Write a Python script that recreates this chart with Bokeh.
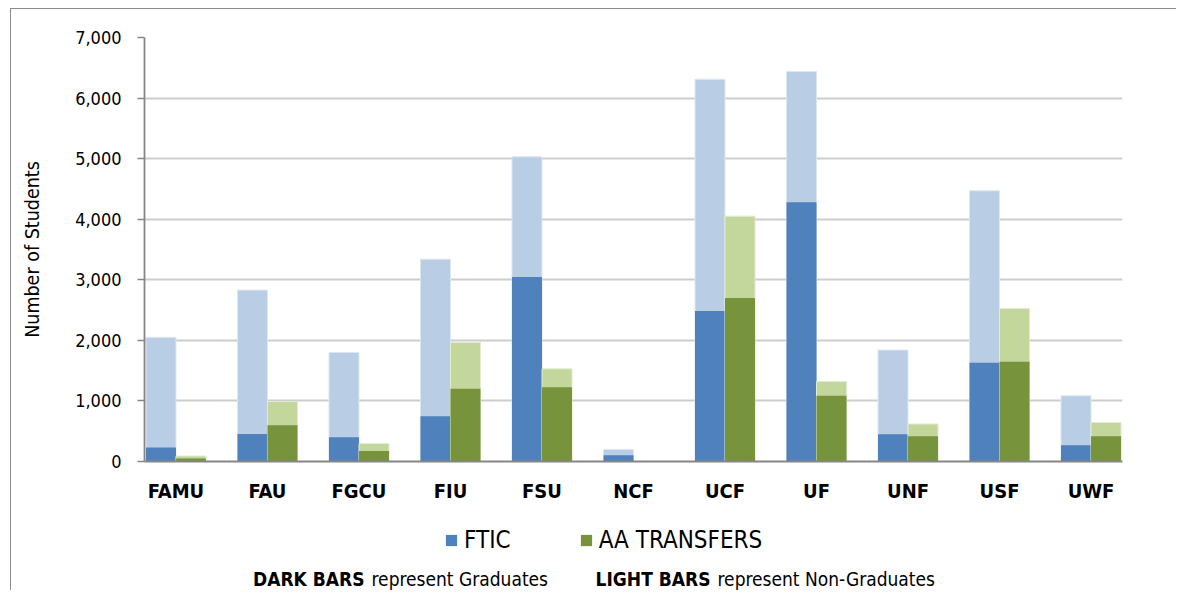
from bokeh.plotting import figure
from bokeh.layouts import column
from bokeh.models import (FactorRange, Legend, LegendItem, NumeralTickFormatter,
                          FixedTicker, ColumnDataSource)
from bokeh.core.properties import value
from bokeh.transform import dodge
from bokeh.embed import file_html
from bokeh.resources import INLINE

FONT = "DejaVu Sans Condensed"

# ---- data ----
universities = ["FAMU", "FAU", "FGCU", "FIU", "FSU", "NCF", "UCF", "UF", "UNF", "USF", "UWF"]
ftic_graduates = [230, 455, 400, 745, 3045, 105, 2485, 4280, 450, 1630, 270]
ftic_non_graduates = [1820, 2375, 1400, 2595, 1985, 95, 3825, 2160, 1390, 2840, 815]
aa_graduates = [50, 600, 175, 1200, 1225, 0, 2700, 1085, 415, 1645, 415]
aa_non_graduates = [40, 390, 120, 765, 305, 0, 1350, 235, 205, 880, 230]
y_ticks = [0, 1000, 2000, 3000, 4000, 5000, 6000, 7000]
series_labels = ["FTIC", "AA TRANSFERS"]
note_bold = ["DARK BARS", "LIGHT BARS"]
note_rest = ["represent Graduates", "represent Non-Graduates"]

ftic_total = [g + n for g, n in zip(ftic_graduates, ftic_non_graduates)]
aa_total = [g + n for g, n in zip(aa_graduates, aa_non_graduates)]

src = ColumnDataSource(dict(
    uni=universities,
    idx=list(range(len(universities))),
    ftic_g=ftic_graduates, ftic_t=ftic_total,
    aa_g=aa_graduates, aa_t=aa_total,
))

DARK_BLUE = "#4F81BD"
LIGHT_BLUE = "#B9CDE5"
DARK_GREEN = "#77933C"
LIGHT_GREEN = "#C3D69B"

# ---- layout constants (page pixels) ----
ORIGIN_X, ORIGIN_Y = 11, 9
FRAME_L, FRAME_R = 144, 1122
WIDTH = 1177 - ORIGIN_X
MB_LEFT, MB_RIGHT = FRAME_L - ORIGIN_X, 1177 - FRAME_R
MAIN_H = 496
STRIP_H = 86

# ---- main chart ----
x_range = FactorRange(*universities, range_padding=-0.312 / len(universities),
                      range_padding_units="percent")
p = figure(x_range=x_range, y_range=(0, 7000),
           width=WIDTH, height=MAIN_H, output_backend="svg", toolbar_location=None,
           min_border_left=MB_LEFT, min_border_right=MB_RIGHT, min_border_top=28,
           min_border_bottom=42)

W = 0.328
ftic_x = dodge("uni", -W / 2, range=p.x_range)
aa_x = dodge("uni", W / 2, range=p.x_range)

p.vbar(x=ftic_x, top="ftic_t", width=W, source=src, fill_color=LIGHT_BLUE,
       line_color="#dde7f2", line_width=1)
p.vbar(x=ftic_x, top="ftic_g", width=W, source=src, fill_color=DARK_BLUE, line_color=None)
p.vbar(x=aa_x, top="aa_t", width=W, source=src, fill_color=LIGHT_GREEN,
       line_color="#e2ecd0", line_width=1)
p.vbar(x=aa_x, top="aa_g", width=W, source=src, fill_color=DARK_GREEN, line_color=None)

p.outline_line_color = None
p.xgrid.grid_line_color = None
p.ygrid.grid_line_color = "#CDCDCD"
p.ygrid.grid_line_width = 1.8

p.yaxis.ticker = FixedTicker(ticks=y_ticks)
p.yaxis.formatter = NumeralTickFormatter(format="0,0")
p.yaxis.axis_line_color = "#868686"
p.yaxis.axis_line_width = 1.8
p.yaxis.major_tick_line_color = "#868686"
p.yaxis.major_tick_line_width = 1.5
p.yaxis.major_tick_in = 0
p.yaxis.major_tick_out = 7
p.yaxis.minor_tick_line_color = None
p.yaxis.major_label_text_font = FONT
p.yaxis.major_label_text_font_size = "18px"
p.yaxis.major_label_text_color = "#000000"
p.yaxis.major_label_standoff = 16
p.yaxis.axis_label = "Number of Students"
p.yaxis.axis_label_text_font = FONT
p.yaxis.axis_label_text_font_size = "19.5px"
p.yaxis.axis_label_text_font_style = "normal"
p.yaxis.axis_label_text_color = "#000000"
p.yaxis.axis_label_standoff = 28

p.xaxis.axis_line_color = "#868686"
p.xaxis.axis_line_width = 2
p.xaxis.major_tick_line_color = None
p.xaxis.major_tick_out = 0
p.xaxis.major_tick_in = 0
p.xaxis.major_label_text_font = FONT
p.xaxis.major_label_text_font_style = "bold"
p.xaxis.major_label_text_font_size = "20px"
p.xaxis.major_label_text_color = "#000000"
p.xaxis.major_label_standoff = 17

# ---- legend + note strip: x data units follow the page pixels of the main frame ----
q = figure(width=WIDTH, height=STRIP_H, x_range=(FRAME_L, FRAME_R), y_range=(0, STRIP_H),
           output_backend="svg", toolbar_location=None,
           min_border_left=MB_LEFT, min_border_right=MB_RIGHT, min_border_top=0,
           min_border_bottom=0, x_axis_type=None, y_axis_type=None)
q.outline_line_color = None
q.grid.visible = False

# hidden renderers carrying the real series, used only for the legend swatches
r1 = q.vbar(x="idx", top="ftic_g", width=0.5, source=src, fill_color=DARK_BLUE,
            line_color=None, visible=False)
r2 = q.vbar(x="idx", top="aa_g", width=0.5, source=src, fill_color=DARK_GREEN,
            line_color=None, visible=False)
legend = Legend(items=[LegendItem(label=series_labels[0], renderers=[r1]),
                       LegendItem(label=series_labels[1], renderers=[r2])],
                orientation="horizontal", location=(444 - FRAME_L, 37),
                glyph_width=14, glyph_height=14, label_standoff=6, spacing=68,
                padding=0, margin=0, border_line_color=None, background_fill_alpha=0,
                inactive_fill_alpha=0, click_policy="none",
                label_text_font=FONT, label_text_font_size="24px", label_text_color="#000000")
q.add_layout(legend, "center")

note_y = [13, 13]
q.text(x=[364, 710], y=note_y, text=note_bold, text_align="right",
       text_baseline="alphabetic", text_font=value(FONT), text_font_style="bold",
       text_font_size="19px", text_color="#000000")
q.text(x=[371, 717], y=note_y, text=note_rest, text_align="left",
       text_baseline="alphabetic", text_font=value(FONT),
       text_font_size="19px", text_color="#000000")

layout = column(p, q, styles={"margin-left": f"{ORIGIN_X}px", "margin-top": f"{ORIGIN_Y}px",
                              "box-shadow": "-1px -1px 0 0 #8c8c8c"})

open("out.html", "w").write(file_html(layout, INLINE))
